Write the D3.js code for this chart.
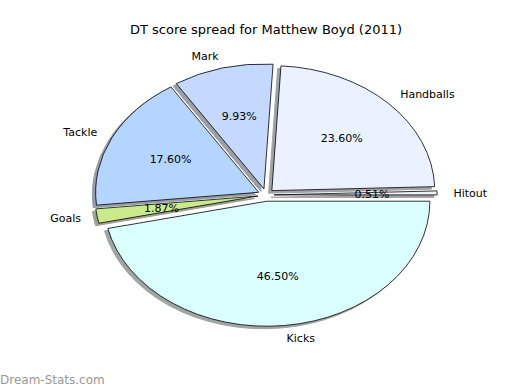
<!doctype html>
<html>
<head>
<meta charset="UTF-8">
<title>DT score spread</title>
<style>
  body { margin: 0; background: #fff; }
  text { font-family: "DejaVu Sans", sans-serif; }
</style>
<script src="https://d3js.org/d3.v7.min.js"></script>
</head>
<body>
<svg id="chart" width="520" height="390"></svg>
<script>
// data, counterclockwise from 3 o'clock like the original
var labels = ["Hitout", "Handballs", "Mark", "Tackle", "Goals", "Kicks"];
var values = [0.51, 23.60, 9.93, 17.60, 1.87, 46.50];
var colors = ["#eef2fc", "#eaf1ff", "#c5d9ff", "#b3d5ff", "#caea8c", "#dbffff"];

var svg = d3.select("#chart");
var cx = 266, cy = 195, rx = 163, ry = 125;
var explode = 0.05;

// unit circle -> screen ellipse
var xs = d3.scaleLinear().domain([-1, 1]).range([cx - rx, cx + rx]);
var ys = d3.scaleLinear().domain([-1, 1]).range([cy + ry, cy - ry]);

var pie = d3.pie().sort(null)
    .startAngle(Math.PI / 2)
    .endAngle(Math.PI / 2 - 2 * Math.PI);
var arcs = pie(values);
var arc = d3.arc().innerRadius(0).outerRadius(1);

function mid(d) { return (d.startAngle + d.endAngle) / 2; }

svg.append("text")
    .attr("x", cx).attr("y", 34)
    .attr("text-anchor", "middle")
    .attr("font-size", "13px")
    .text("DT score spread for Matthew Boyd (2011)");

var g = svg.append("g")
    .attr("transform", "translate(" + cx + "," + cy + ") scale(" + rx + "," + ry + ")");

// shadows first
g.selectAll("path.shadow")
    .data(arcs)
    .enter().append("path")
    .attr("class", "shadow")
    .attr("d", arc)
    .attr("transform", function(d) {
        var m = mid(d);
        return "translate(" + (explode * Math.sin(m) - 0.02) + "," + (-explode * Math.cos(m) + 0.02) + ")";
    })
    .attr("fill", function(d, i) {
        var c = d3.rgb(colors[i]);
        return d3.rgb(c.r * 0.3, c.g * 0.3, c.b * 0.3);
    })
    .attr("stroke", function(d, i) {
        var c = d3.rgb(colors[i]);
        return d3.rgb(c.r * 0.3, c.g * 0.3, c.b * 0.3);
    })
    .attr("opacity", 0.5)
    .attr("stroke-width", 1)
    .attr("vector-effect", "non-scaling-stroke");

g.selectAll("path.wedge")
    .data(arcs)
    .enter().append("path")
    .attr("class", "wedge")
    .attr("d", arc)
    .attr("transform", function(d) {
        var m = mid(d);
        return "translate(" + (explode * Math.sin(m)) + "," + (-explode * Math.cos(m)) + ")";
    })
    .attr("fill", function(d, i) { return colors[i]; })
    .attr("stroke", "#000")
    .attr("stroke-width", 0.8)
    .attr("vector-effect", "non-scaling-stroke");

// category labels
svg.selectAll("text.label")
    .data(arcs)
    .enter().append("text")
    .attr("class", "label")
    .attr("x", function(d) { return xs((1.1 + explode) * Math.sin(mid(d))); })
    .attr("y", function(d) { return ys((1.1 + explode) * Math.cos(mid(d))); })
    .attr("dy", "0.35em")
    .attr("text-anchor", function(d) { return Math.sin(mid(d)) > 0 ? "start" : "end"; })
    .attr("font-size", "11px")
    .text(function(d, i) { return labels[i]; });

// percentages
svg.selectAll("text.pct")
    .data(arcs)
    .enter().append("text")
    .attr("class", "pct")
    .attr("x", function(d) { return xs((0.6 + explode) * Math.sin(mid(d))); })
    .attr("y", function(d) { return ys((0.6 + explode) * Math.cos(mid(d))); })
    .attr("dy", "0.35em")
    .attr("text-anchor", "middle")
    .attr("font-size", "11px")
    .text(function(d) { return d.value.toFixed(2) + "%"; });

// watermark
svg.append("text")
    .attr("x", 0).attr("y", 384)
    .attr("font-size", "12px")
    .attr("fill", "#999")
    .text("Dream-Stats.com");
</script>
</body>
</html>
